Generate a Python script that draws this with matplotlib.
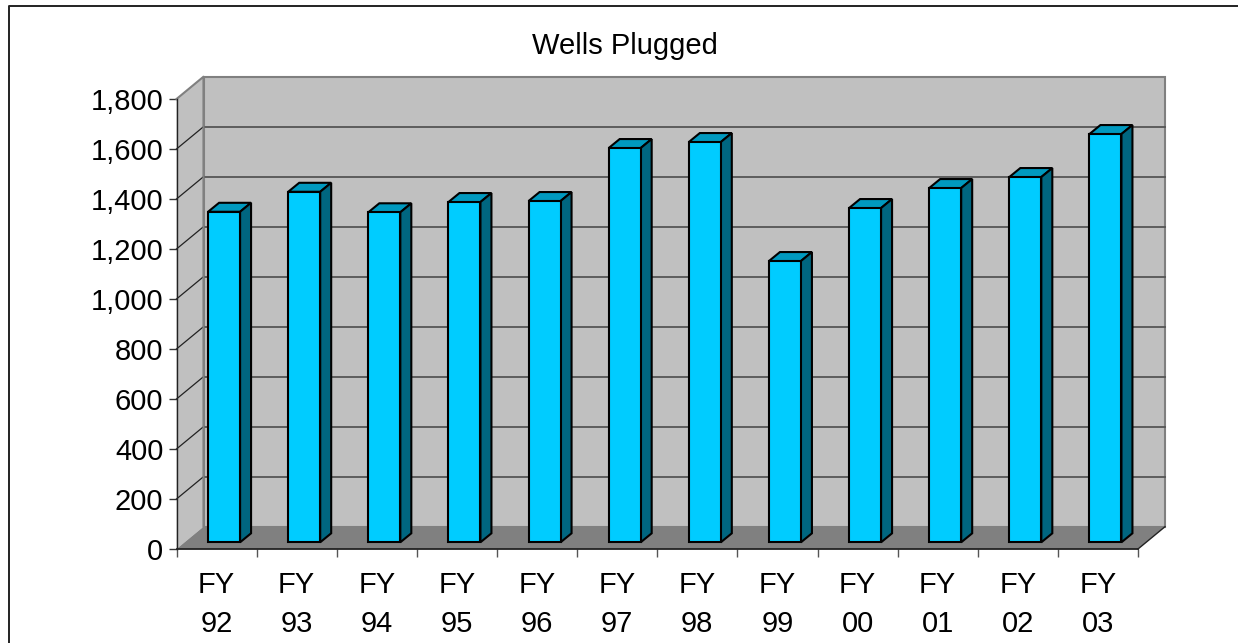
import numpy as np
import matplotlib
matplotlib.use('Agg')
import matplotlib.pyplot as plt
from matplotlib.patches import Polygon
from matplotlib.lines import Line2D

plt.rcParams['font.family'] = ['Liberation Sans', 'DejaVu Sans']

# values
years = ['92', '93', '94', '95', '96', '97', '98', '99', '00', '01', '02', '03']
labels = ['FY\n' + y for y in years]
wells = [1322, 1402, 1320, 1361, 1365, 1577, 1601, 1125, 1337, 1417, 1461, 1633]
yticks = [0, 200, 400, 600, 800, 1000, 1200, 1400, 1600, 1800]

W, H = 1238, 643
x0, x1 = 176.5, 1138.0   # front plane in pixels
y0, y1 = 549.0, 99.0

fig = plt.figure(figsize=(W / 100, H / 100), dpi=100, facecolor='white')
ax = fig.add_axes([x0 / W, 1 - y0 / H, (x1 - x0) / W, (y0 - y1) / H])
ax.set_xlim(0, 12)
ax.set_ylim(0, 1800)
ax.patch.set_visible(False)

# depth of the fake 3d box, in data units
px_x = 12 / (x1 - x0)
px_y = 1800 / (y0 - y1)
dx = 27 * px_x
dy = 22.3 * px_y
grey = '#808080'
grid = '#555555'

# side wall, back wall, floor
ax.add_patch(Polygon([(0, 0), (dx, dy), (dx, 1800 + dy), (0, 1800)], fc='#c0c0c0', ec='none', zorder=1, clip_on=False))
ax.add_patch(Polygon([(dx, dy), (12 + dx, dy), (12 + dx, 1800 + dy), (dx, 1800 + dy)],
                     fc='#c0c0c0', ec=grey, lw=1.5, zorder=1, clip_on=False))
ax.add_patch(Polygon([(0, 0), (12, 0), (12 + dx, dy), (dx, dy)], fc=grey, ec='none', zorder=1.5, clip_on=False))
ax.plot([0, dx, dx], [1800, 1800 + dy, dy], color=grey, lw=1.5, zorder=1.6, clip_on=False)
ax.plot([12, 12 + dx], [0, dy], color='#222222', lw=1, zorder=1.6, clip_on=False)

# gridlines on the walls
for t in yticks[1:-1]:
    ax.plot([dx, 12 + dx], [t + dy, t + dy], color=grid, lw=1.3, zorder=1.2, clip_on=False)
for t in yticks[1:-1]:
    ax.plot([0, dx], [t, t + dy], color='#222222', lw=0.9, zorder=1.2, clip_on=False)

# bars: front face, top and side
pos = np.arange(12) + 0.5 + 7.5 * px_x
bw = 32 * px_x
bar_dx = 11 * px_x
bar_dy = 9 * px_y
base = 6.7 * px_y
ax.bar(pos, wells, width=bw, bottom=base, color='#00ccff', edgecolor='black', linewidth=1.5, zorder=4, clip_on=False)
for p, v in zip(pos, wells):
    l, r = p - bw / 2, p + bw / 2
    top = v + base
    ax.add_patch(Polygon([(l, top), (r, top), (r + bar_dx, top + bar_dy), (l + bar_dx, top + bar_dy)],
                         fc='#0099bf', ec='black', lw=1.5, zorder=3, clip_on=False))
    ax.add_patch(Polygon([(r, base), (r + bar_dx, base + bar_dy), (r + bar_dx, top + bar_dy), (r, top)],
                         fc='#006680', ec='black', lw=1.5, zorder=3, clip_on=False))

for s in ['top', 'right']:
    ax.spines[s].set_visible(False)
ax.spines['left'].set_color('#222222')
ax.spines['bottom'].set_color('#222222')
ax.spines['left'].set_linewidth(1)
ax.spines['bottom'].set_linewidth(1.3)
ax.spines['left'].set_zorder(5)
ax.spines['bottom'].set_zorder(5)

ax.set_yticks(yticks)
ax.set_yticklabels(['{:,}'.format(t) for t in yticks], fontsize=21)
ax.set_xticks(np.arange(13))
ax.set_xticklabels([])
ax.tick_params(axis='y', length=6, width=1, color='#333333', pad=3.5, labelcolor='black')
ax.tick_params(axis='x', length=6, width=1, color='#555555')
for i, lab in enumerate(labels):
    ax.annotate(lab, (i + 0.5, 0), xytext=(0, -16), textcoords='offset points', ha='center', va='top',
                fontsize=21, linespacing=1.48, annotation_clip=False)

fig.text(625 / W, 1 - 46 / H, 'Wells Plugged', ha='center', va='center', fontsize=21)

# border only shows on the left and top of the image
fig.add_artist(Line2D([9 / W, 9 / W, 1], [0, 1 - 5.5 / H, 1 - 5.5 / H], transform=fig.transFigure,
                      color='#222222', lw=1.4))

fig.savefig('out.png', dpi=100)
